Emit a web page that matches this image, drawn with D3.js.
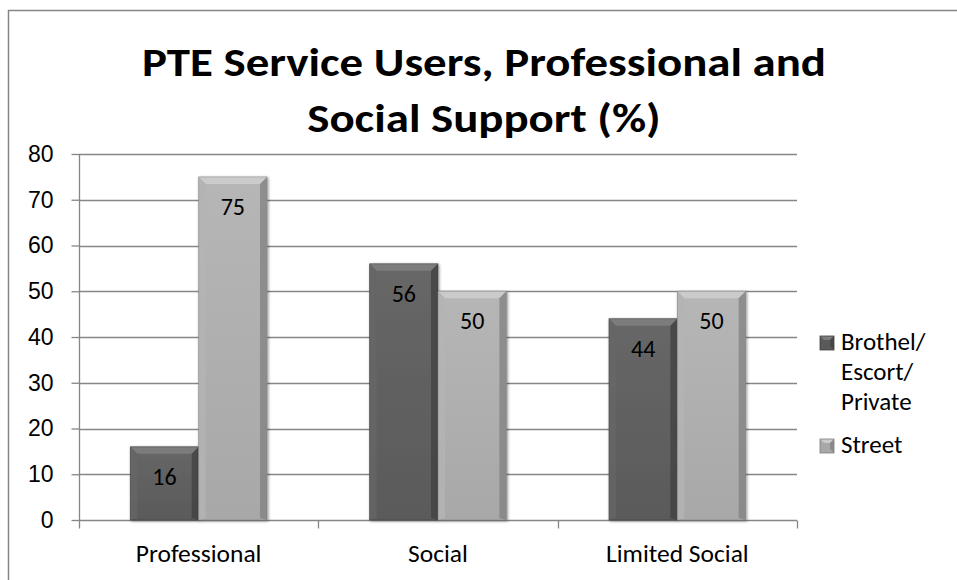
<!DOCTYPE html>
<html>
<head>
<meta charset="utf-8">
<script src="https://cdn.jsdelivr.net/npm/d3@7"></script>
<style>
  html, body { margin: 0; padding: 0; background: #fff; }
  svg { display: block; font-family: Carlito, Lato, "Liberation Sans", sans-serif; }
</style>
</head>
<body>
<svg id="chart" width="957" height="580"></svg>
<script>
// Chart data
const titleLines = ["PTE Service Users, Professional and", "Social Support (%)"];
const categories = ["Professional", "Social", "Limited Social"];
const seriesNames = ["Brothel/Escort/Private", "Street"];
const legendLines = [["Brothel/", "Escort/", "Private"], ["Street"]];
const brothelValues = [16, 56, 44];
const streetValues = [75, 50, 50];
const yTicks = [0, 10, 20, 30, 40, 50, 60, 70, 80];

const W = 957, H = 580;
const svg = d3.select("#chart");
const gray = "#868686";

// Chart frame
svg.append("rect")
  .attr("x", 8.5).attr("y", 10.5)
  .attr("width", W + 10).attr("height", H + 10)
  .attr("fill", "#fff").attr("stroke", gray).attr("stroke-width", 1.5);

// Plot area
const plot = { left: 79, right: 797, top: 154, bottom: 520 };

const x0 = d3.scaleBand().domain(categories).range([plot.left, plot.right]).padding(0);
const x1 = d3.scaleBand().domain(seriesNames).range([0, x0.bandwidth()]).paddingInner(0).paddingOuter(0.75);
const y = d3.scaleLinear().domain([0, 80]).range([plot.bottom, plot.top]);

// Gridlines
svg.append("g")
  .selectAll("line")
  .data(yTicks.filter(d => d > 0))
  .join("line")
  .attr("x1", plot.left).attr("x2", plot.right)
  .attr("y1", d => Math.round(y(d)) + 0.5).attr("y2", d => Math.round(y(d)) + 0.5)
  .attr("stroke", gray).attr("stroke-width", 1.3);

// Y axis
const yAxis = svg.append("g")
  .attr("transform", `translate(${plot.left + 0.5},0)`)
  .call(d3.axisLeft(y).tickValues(yTicks).tickSize(8).tickPadding(18).tickFormat(d3.format("d")));
yAxis.select(".domain").attr("stroke", gray).attr("stroke-width", 1.3).attr("d", `M0,${plot.top}V${plot.bottom}`);
yAxis.selectAll(".tick line").attr("stroke", gray).attr("stroke-width", 1.3);
yAxis.selectAll(".tick text").attr("font-size", 23).attr("fill", "#000").attr("font-family", null);

// X axis with ticks on the category boundaries
const xAxisG = svg.append("g").attr("transform", `translate(0,${plot.bottom + 0.5})`);
xAxisG.append("line")
  .attr("x1", plot.left).attr("x2", plot.right)
  .attr("stroke", gray).attr("stroke-width", 1.3);
const bounds = categories.map(c => x0(c)).concat([plot.right]);
xAxisG.selectAll("line.tk")
  .data(bounds)
  .join("line").attr("class", "tk")
  .attr("x1", d => Math.round(d) + 0.5).attr("x2", d => Math.round(d) + 0.5)
  .attr("y1", 0).attr("y2", 8)
  .attr("stroke", gray).attr("stroke-width", 1.3);
xAxisG.selectAll("text")
  .data(categories)
  .join("text")
  .attr("x", d => x0(d) + x0.bandwidth() / 2)
  .attr("y", 41)
  .attr("text-anchor", "middle")
  .attr("font-size", 25.5)
  .attr("fill", "#000")
  .text(d => d);

// Bevelled bar styles
const styles = {
  "Brothel/Escort/Private": { base: "#5a5a5a", light: "#7c7c7c", mid: "#666", dark: "#3f3f3f", hl: "#676767" },
  "Street": { base: "#a8a8a8", light: "#cbcbcb", mid: "#b4b4b4", dark: "#7e7e7e", hl: "#b6b6b6" }
};

const defs = svg.append("defs");
Object.entries(styles).forEach(([name, s], i) => {
  const g = defs.append("linearGradient").attr("id", "grad" + i).attr("x1", 0).attr("x2", 0).attr("y1", 0).attr("y2", 1);
  g.append("stop").attr("offset", 0).attr("stop-color", s.hl);
  g.append("stop").attr("offset", 1).attr("stop-color", s.base);
});
const f = defs.append("filter").attr("id", "shadow").attr("x", -0.2).attr("y", -0.2).attr("width", 1.4).attr("height", 1.4);
f.append("feGaussianBlur").attr("in", "SourceAlpha").attr("stdDeviation", 1.5);
f.append("feOffset").attr("dx", 1).attr("dy", 1).attr("result", "b");
f.append("feComponentTransfer").append("feFuncA").attr("type", "linear").attr("slope", 0.45);
const fm = f.append("feMerge");
fm.append("feMergeNode");
fm.append("feMergeNode").attr("in", "SourceGraphic");

const rows = categories.map((c, i) => ({ cat: c, vals: [brothelValues[i], streetValues[i]] }));

function drawBar(g, bx, by, bw, bh, s, gi) {
  const b = Math.min(7, bh / 2);
  const grp = g.append("g").attr("filter", "url(#shadow)");
  grp.append("rect").attr("x", bx).attr("y", by).attr("width", bw).attr("height", bh).attr("fill", `url(#grad${gi})`);
  // top bevel
  grp.append("path").attr("d", `M${bx},${by}H${bx + bw}L${bx + bw - b},${by + b}H${bx + b}Z`).attr("fill", s.light);
  // left bevel
  grp.append("path").attr("d", `M${bx},${by}L${bx + b},${by + b}V${by + bh - 2}L${bx},${by + bh}Z`).attr("fill", s.mid).attr("opacity", 0.8);
  // right bevel
  grp.append("path").attr("d", `M${bx + bw},${by}L${bx + bw - b},${by + b}V${by + bh - 2}L${bx + bw},${by + bh}Z`).attr("fill", s.dark).attr("opacity", 0.7);
  grp.append("rect").attr("x", bx).attr("y", by).attr("width", bw).attr("height", bh)
    .attr("fill", "none").attr("stroke", s.dark).attr("stroke-width", 0.8).attr("opacity", 0.6);
}

const barsG = svg.append("g");
rows.forEach(r => {
  r.vals.forEach((v, si) => {
    const name = seriesNames[si];
    const bx = x0(r.cat) + x1(name);
    const by = y(v);
    drawBar(barsG, bx, by, x1.bandwidth(), y(0) - by, styles[name], si);
  });
});

// Value labels, inside end
const labelsG = svg.append("g");
rows.forEach(r => {
  r.vals.forEach((v, si) => {
    const name = seriesNames[si];
    labelsG.append("text")
      .attr("x", x0(r.cat) + x1(name) + x1.bandwidth() / 2)
      .attr("y", y(v) + 38)
      .attr("text-anchor", "middle")
      .attr("font-size", 24)
      .attr("fill", "#000")
      .text(v);
  });
});

// Title: tall bold face, condensed to the line width
const title = svg.append("g");
const cx = 484, titleSize = 40;
const t1 = title.append("text").attr("x", cx).attr("y", 76).attr("text-anchor", "middle")
  .attr("font-weight", "bold").attr("font-size", titleSize).text(titleLines[0]);
const t2 = title.append("text").attr("x", cx).attr("y", 132).attr("text-anchor", "middle")
  .attr("font-weight", "bold").attr("font-size", titleSize).text(titleLines[1]);
const squeeze = 684 / t1.node().getComputedTextLength();
[t1, t2].forEach(t => {
  const w = t.node().getComputedTextLength();
  t.attr("textLength", w * squeeze).attr("lengthAdjust", "spacingAndGlyphs");
});

// Legend
const legend = svg.append("g");
const legendY = [336, 439];
seriesNames.forEach((name, i) => {
  const s = styles[name];
  const lx = 820, ly = legendY[i], sz = 14;
  const lg = legend.append("g");
  lg.append("rect").attr("x", lx).attr("y", ly).attr("width", sz).attr("height", sz).attr("fill", s.base);
  lg.append("path").attr("d", `M${lx},${ly}H${lx + sz}L${lx + sz - 4},${ly + 4}H${lx + 4}Z`).attr("fill", s.light);
  lg.append("path").attr("d", `M${lx + sz},${ly}V${ly + sz}L${lx + sz - 4},${ly + sz - 4}V${ly + 4}Z`).attr("fill", s.dark).attr("opacity", 0.7);
  lg.append("rect").attr("x", lx).attr("y", ly).attr("width", sz).attr("height", sz).attr("fill", "none").attr("stroke", s.dark).attr("stroke-width", 0.8);
  legendLines[i].forEach((line, k) => {
    lg.append("text").attr("x", 841).attr("y", ly + 14 + k * 30)
      .attr("font-size", 25).attr("fill", "#000").text(line);
  });
});
</script>
</body>
</html>
